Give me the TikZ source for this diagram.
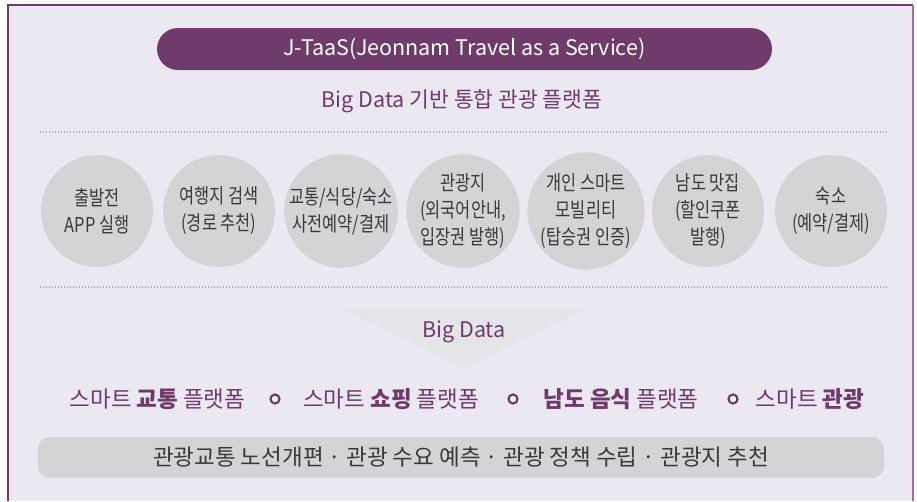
\documentclass[tikz,border=0pt]{standalone}
\usepackage{fontspec}
\setmainfont{Noto Sans CJK KR}
\newfontfamily\kestrecho{Noto Sans CJK KR}[FakeStretch=0.8]
\usetikzlibrary{positioning,shapes.geometric}
\definecolor{cmorado}{HTML}{6F3B6B}
\definecolor{cmarco}{HTML}{9C729C}
\definecolor{cfondo}{HTML}{ECE8F2}
\definecolor{cburbuja}{HTML}{D4D4D6}
\definecolor{ctriang}{HTML}{E4E5E8}
\definecolor{ctexto}{HTML}{3A3A3A}
\definecolor{cpunto}{HTML}{A9A9AC}
\tikzset{
  barra/.style={fill=cmorado,rounded corners=21pt,minimum width=615pt,
                minimum height=42pt,text=white,font=\fontsize{21.5}{24}\selectfont},
  sub/.style={text=cmorado,font=\fontsize{21.5}{24}\selectfont,inner sep=0pt},
  burbuja/.style={circle,fill=cburbuja,minimum size=112pt,inner sep=0pt,
                  align=center,text=ctexto,font=\kestrecho\fontsize{20.5}{27}\selectfont},
  punteado/.style={draw=cpunto,line width=1.6pt,dash pattern=on 1.3pt off 1.7pt},
  plat/.style={text=cmorado,font=\fontsize{22.5}{24}\selectfont,inner sep=0pt},
  anillo/.style={circle,draw=cmorado,line width=2.2pt,fill=white,
                 minimum size=9pt,inner sep=0pt},
  caja/.style={fill=cburbuja,rounded corners=12pt,minimum width=846pt,
               minimum height=41pt,text=ctexto,font=\fontsize{22.5}{24}\selectfont},
}
\begin{document}
\begin{tikzpicture}[x=1pt,y=-1pt]
\useasboundingbox (0,0) rectangle (917,501);
\fill[cfondo] (8,5) rectangle (913,501);
\draw[cmorado,line width=2pt] (8,501) -- (8,5) -- (913,5);
\draw[cmarco,line width=2.5pt] (913,5) -- (913,501);

\node[barra] (titulo) at (464.5,49) {J-TaaS(Jeonnam Travel as a Service)};
\node[sub] (lema) at (462,101) {Big Data 기반 통합 관광 플랫폼};

\draw[punteado] (40,132) -- (887,132);

\node[burbuja] (b1) at (97,211)  {출발전\\APP 실행};
\node[burbuja] (b2) at (219,211) {여행지 검색\\(경로 추천)};
\node[burbuja] (b3) at (341,211) {교통/식당/숙소\\사전예약/결제};
\node[burbuja] (b4) at (463,211) {관광지\\(외국어안내,\\입장권 발행)};
\node[burbuja] (b5) at (586,211) {개인 스마트\\모빌리티\\(탑승권 인증)};
\node[burbuja] (b6) at (708,211) {남도 맛집\\(할인쿠폰\\발행)};
\node[burbuja] (b7) at (831,211) {숙소\\(예약/결제)};

\draw[punteado] (40,287) -- (887,287);

\fill[ctriang] (340,309) -- (588,309) -- (464,367) -- cycle;
\node[sub] (bd) at (464,332) {Big Data};

\node[plat] (p1) at (157.5,399) {스마트 \textbf{교통} 플랫폼};
\node[anillo] (a1) at (275,399) {};
\node[plat] (p2) at (391,399) {스마트 \textbf{쇼핑} 플랫폼};
\node[anillo] (a2) at (513,399) {};
\node[plat] (p3) at (621,399) {\textbf{남도 음식} 플랫폼};
\node[anillo] (a3) at (733,399) {};
\node[plat] (p4) at (810,399) {스마트 \textbf{관광}};

\node[caja] (usos) at (461,457.5)
  {관광교통 노선개편 · 관광 수요 예측 · 관광 정책 수립 · 관광지 추천};
\end{tikzpicture}
\end{document}
